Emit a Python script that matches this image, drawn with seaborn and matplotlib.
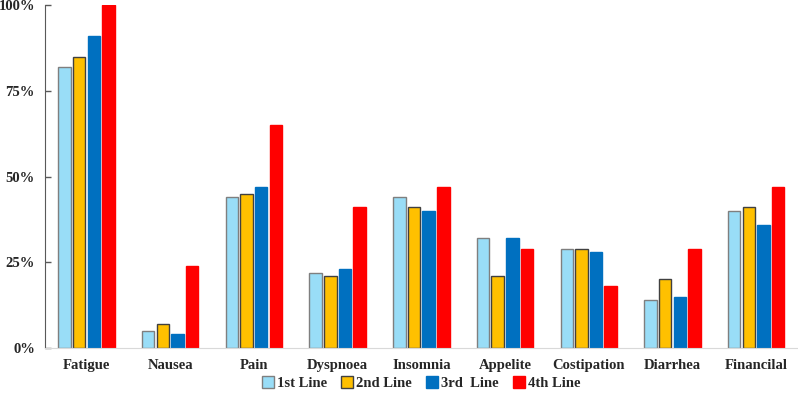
import numpy as np
import pandas as pd
import seaborn as sns
import matplotlib.pyplot as plt
from matplotlib.lines import Line2D

sns.set_style("white")
plt.rcParams['font.family'] = ['Liberation Serif', 'DejaVu Serif']
plt.rcParams['font.weight'] = 'bold'

# data
symptoms = ['Fatigue', 'Nausea', 'Pain', 'Dyspnoea', 'Insomnia',
            'Appelite', 'Costipation', 'Diarrhea', 'Financilal']
lines = ['1st Line', '2nd Line', '3rd  Line', '4th Line']
line1 = [82, 5, 44, 22, 44, 32, 29, 14, 40]
line2 = [85, 7, 45, 21, 41, 21, 29, 20, 41]
line3 = [91, 4, 47, 23, 40, 32, 28, 15, 36]
line4 = [100, 24, 65, 41, 47, 29, 18, 29, 47]

colors = ['#99DDF7', '#FFC000', '#0070C0', '#FF0000']
edges = ['#7F7F7F', '#404040', '#0070C0', '#FF0000']

df = pd.DataFrame({
    'symptom': symptoms * 4,
    'line': np.repeat(lines, len(symptoms)),
    'value': line1 + line2 + line3 + line4,
})

fig, ax = plt.subplots(figsize=(7.98, 3.96), dpi=100)
sns.barplot(data=df, x='symptom', y='value', hue='line', order=symptoms,
            hue_order=lines, palette=colors, width=0.7, gap=0.15,
            ax=ax, legend=False, saturation=1)

for cont, ec in zip(ax.containers, edges):
    for p in cont:
        p.set_edgecolor(ec)
        p.set_linewidth(1.0)

ax.set_xlim(-0.5, len(symptoms) - 0.5)
ax.set_ylim(0, 100)
ax.set_yticks([0, 25, 50, 75, 100])
ax.set_yticklabels(['0%', '25%', '50%', '75%', '100%'])
ax.set_xlabel('')
ax.set_ylabel('')
ax.tick_params(axis='y', direction='in', length=4, width=1, color='#595959',
               left=True, labelsize=10.5, pad=7)
ax.tick_params(axis='x', length=0, labelsize=10.5, pad=8)
for lbl in ax.get_xticklabels() + ax.get_yticklabels():
    lbl.set_fontweight('bold')

sns.despine(ax=ax, top=True, right=True)
ax.spines['left'].set_color('#595959')
ax.spines['bottom'].set_color('#D9D9D9')

handles = [Line2D([], [], marker='s', linestyle='', markersize=8,
                  markerfacecolor=c, markeredgecolor=e)
           for c, e in zip(colors, edges)]
ax.legend(handles, lines, loc='upper center', bbox_to_anchor=(0.5, -0.075),
          ncol=4, frameon=False, handlelength=0.8, handletextpad=0.2,
          columnspacing=1.0, borderaxespad=0, borderpad=0.2,
          prop={'weight': 'bold', 'size': 10.5})

plt.subplots_adjust(left=0.056, right=1.0, top=0.987, bottom=0.121)
plt.savefig('out.png', dpi=100)
